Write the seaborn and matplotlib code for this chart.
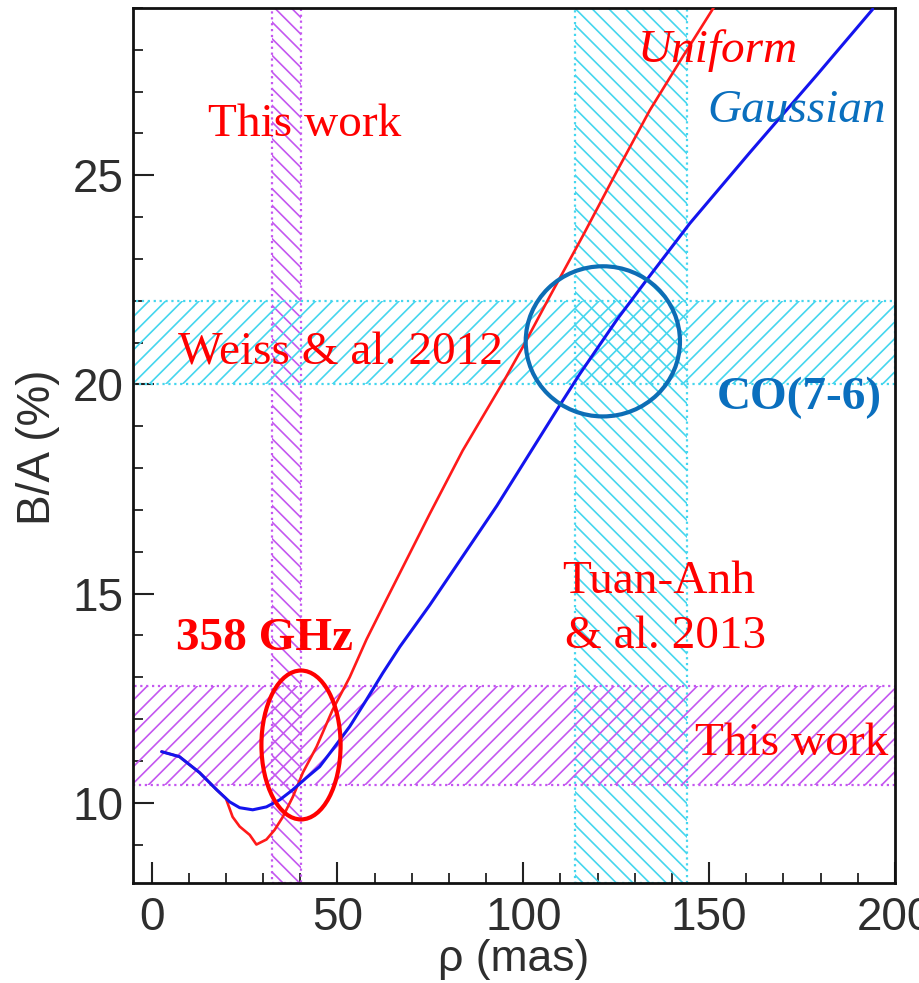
import numpy as np
import pandas as pd
import matplotlib
matplotlib.use("Agg")
import matplotlib.pyplot as plt
import seaborn as sns
from matplotlib.patches import Ellipse
from matplotlib.ticker import MultipleLocator, FixedLocator

# B/A ratio versus source size rho (mas) for two source profiles
rho_gauss = [2.7, 7.5, 12.9, 17.5, 21.0, 23.7, 27.2, 30.9, 34.5, 38.0, 41.7, 45.2,
             48.7, 53.3, 57.8, 62.2, 66.8, 74.8, 83.7, 92.9, 101.7, 109.8, 115.2,
             125.2, 133.2, 144.8, 161.0, 179.0, 194.0]
ba_gauss = [11.22, 11.10, 10.72, 10.31, 10.02, 9.88, 9.83, 9.90, 10.07, 10.31, 10.60,
            10.86, 11.27, 11.82, 12.46, 13.10, 13.73, 14.72, 15.89, 17.10, 18.35,
            19.50, 20.25, 21.55, 22.50, 23.85, 25.55, 27.40, 28.97]

rho_unif = [2.7, 7.5, 12.9, 17.5, 20.0, 21.8, 23.7, 26.4, 28.2, 30.9, 33.1, 35.3,
            38.0, 40.7, 44.4, 48.7, 53.3, 57.8, 63.2, 69.4, 74.8, 83.7, 95.0, 99.9,
            107.1, 116.0, 125.2, 134.0, 143.0, 151.5]
ba_unif = [11.22, 11.10, 10.72, 10.31, 10.10, 9.66, 9.43, 9.23, 9.00, 9.12, 9.35,
           9.66, 10.14, 10.72, 11.34, 12.22, 13.00, 13.90, 14.86, 15.95, 16.90,
           18.42, 20.12, 20.90, 22.10, 23.55, 25.10, 26.55, 27.85, 29.05]

# Measured ranges
this_work_rho = (32.3, 40.3)      # mas
tuan_anh_rho = (114.0, 144.0)     # mas
weiss_ba = (20.0, 22.0)           # %
this_work_ba = (10.43, 12.8)      # %

x_ticks = [0, 50, 100, 150, 200]
y_ticks = [10, 15, 20, 25]

sns.set_theme(style="white")
plt.rcParams["font.family"] = ["Liberation Sans", "DejaVu Sans"]
plt.rcParams["hatch.linewidth"] = 1.2

MAGENTA = "#c457f0"
CYAN = "#45d6ee"
RED = "#ff0000"
BLUE_TXT = "#0a6fbe"
AXIS_TXT = "#2e2e2e"

fig = plt.figure(figsize=(9.2, 9.83), dpi=100)
ax = fig.add_axes([133 / 920, 100 / 983, 762 / 920, 875 / 983])
ax.set_xlim(-5, 200)
ax.set_ylim(8.08, 29.0)

# hatched uncertainty bands
ax.axvspan(*this_work_rho, facecolor="none", edgecolor=MAGENTA, hatch="\\\\",
           linestyle=":", linewidth=1.6, zorder=1)
ax.axvspan(*tuan_anh_rho, facecolor="none", edgecolor=CYAN, hatch="\\\\",
           linestyle=":", linewidth=1.6, zorder=1)
ax.axhspan(*weiss_ba, facecolor="none", edgecolor=CYAN, hatch="//",
           linestyle=":", linewidth=1.6, zorder=1)
ax.axhspan(*this_work_ba, facecolor="none", edgecolor=MAGENTA, hatch="//",
           linestyle=":", linewidth=1.6, zorder=1)

df_u = pd.DataFrame({"rho": rho_unif, "ba": ba_unif})
df_g = pd.DataFrame({"rho": rho_gauss, "ba": ba_gauss})
sns.lineplot(data=df_u, x="rho", y="ba", ax=ax, color="#ff1a1a", lw=1.9,
             sort=False, estimator=None, zorder=3)
sns.lineplot(data=df_g, x="rho", y="ba", ax=ax, color="#1414ee", lw=2.2,
             sort=False, estimator=None, zorder=3)

# highlighted intersections
ax.add_patch(Ellipse((121.4, 21.03), 41.5, 3.59, facecolor="none",
                     edgecolor="#0d6db5", lw=3.0, zorder=4))
ax.add_patch(Ellipse((40.2, 11.38), 21.3, 3.56, facecolor="none",
                     edgecolor=RED, lw=3.0, zorder=4))

serif = ["Liberation Serif", "DejaVu Serif"]
fs = 34
ax.text(15.1, 25.93, "This work", color=RED, fontsize=fs, family=serif, zorder=5)
ax.text(130.8, 27.7, "Uniform", color=RED, fontsize=fs, family=serif,
        style="italic", zorder=5)
ax.text(149.4, 26.27, "Gaussian", color=BLUE_TXT, fontsize=fs, family=serif,
        style="italic", zorder=5)
ax.text(7.0, 20.48, "Weiss & al. 2012", color=RED, fontsize=fs, family=serif, zorder=5)
ax.text(152.1, 19.4, "CO(7-6)", color=BLUE_TXT, fontsize=fs, family=serif,
        weight="bold", zorder=5)
ax.text(110.4, 15.02, "Tuan-Anh", color=RED, fontsize=fs, family=serif, zorder=5)
ax.text(111.2, 13.71, "& al. 2013", color=RED, fontsize=fs, family=serif, zorder=5)
ax.text(6.7, 13.66, "358 GHz", color=RED, fontsize=fs, family=serif,
        weight="bold", zorder=5)
ax.text(146.2, 11.15, "This work", color=RED, fontsize=fs, family=serif, zorder=5)

# axes styling
for s in ax.spines.values():
    s.set_linewidth(2.0)
    s.set_color("#111111")
ax.xaxis.set_major_locator(FixedLocator(x_ticks))
ax.yaxis.set_major_locator(FixedLocator(y_ticks))
ax.xaxis.set_minor_locator(MultipleLocator(10))
ax.yaxis.set_minor_locator(MultipleLocator(1))
ax.set_xticklabels([str(v) for v in x_ticks])
ax.set_yticklabels([str(v) for v in y_ticks])
ax.tick_params(which="both", direction="in", left=True, bottom=True,
               top=False, right=False, color="#222222")
ax.tick_params(which="major", length=15, width=1.5, labelsize=33,
               labelcolor=AXIS_TXT)
ax.tick_params(which="minor", length=7.5, width=1.3)
ax.tick_params(axis="y", which="major", pad=7)
ax.tick_params(axis="x", which="major", pad=9)

ax.set_xlabel("ρ (mas)", fontsize=32, color=AXIS_TXT)
ax.set_ylabel("B/A (%)", fontsize=33, color=AXIS_TXT)
ax.xaxis.set_label_coords(0.5, -0.064)
ax.yaxis.set_label_coords(-0.096, 0.498)

fig.savefig("out.png", dpi=100)
